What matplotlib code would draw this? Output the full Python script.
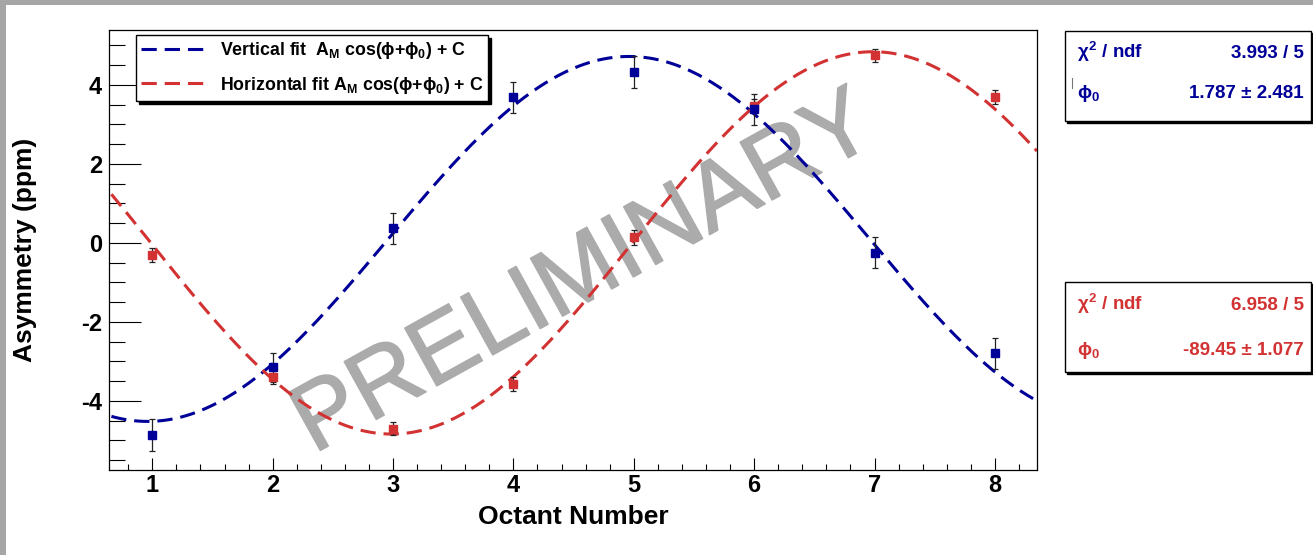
import numpy as np
import matplotlib
matplotlib.use("Agg")
import matplotlib.pyplot as plt
import matplotlib.patheffects as pe
from matplotlib.patches import Rectangle
from matplotlib.lines import Line2D
from matplotlib.ticker import MultipleLocator

# ---------------- data ----------------
octants = [1, 2, 3, 4, 5, 6, 7, 8]
vert_asym = [-4.87, -3.15, 0.37, 3.69, 4.33, 3.38, -0.25, -2.80]
vert_err = [0.40, 0.36, 0.39, 0.39, 0.41, 0.40, 0.39, 0.40]
horiz_asym = [-0.31, -3.40, -4.70, -3.58, 0.14, 3.47, 4.75, 3.69]
horiz_err = [0.18, 0.17, 0.17, 0.18, 0.19, 0.17, 0.17, 0.18]

# fit model: A_M cos(phi + phi0) + C, with phi = 45 deg * (octant - 1)
vert_amp, vert_phi0, vert_const = -4.62, 1.787, 0.10
horiz_amp, horiz_phi0, horiz_const = -4.84, -89.45, 0.0

vert_label = r"Vertical fit  A$_\mathrm{M}$ cos($\phi$+$\phi_\mathrm{0}$) + C"
horiz_label = r"Horizontal fit A$_\mathrm{M}$ cos($\phi$+$\phi_\mathrm{0}$) + C"
vert_stats = [(r"$\chi^\mathrm{2}$ / ndf", "3.993 / 5"), (r"$\phi_\mathrm{0}$", "1.787 ± 2.481")]
horiz_stats = [(r"$\chi^\mathrm{2}$ / ndf", "6.958 / 5"), (r"$\phi_\mathrm{0}$", "-89.45 ± 1.077")]

x_label = "Octant Number"
y_label = "Asymmetry (ppm)"
watermark = "PRELIMINARY"

BLUE = "#000099"
RED = "#d23232"

# ---------------- style ----------------
plt.rcParams["font.family"] = ["Liberation Sans", "DejaVu Sans"]
plt.rcParams["font.weight"] = "bold"
plt.rcParams["axes.unicode_minus"] = False
plt.rcParams["mathtext.fontset"] = "custom"
plt.rcParams["mathtext.rm"] = "Liberation Sans:bold"
plt.rcParams["mathtext.it"] = "Liberation Sans:bold"
plt.rcParams["mathtext.bf"] = "Liberation Sans:bold"
plt.rcParams["mathtext.sf"] = "Liberation Sans:bold"
plt.rcParams["mathtext.fallback"] = "stixsans"

W, H = 1313, 555
fig = plt.figure(figsize=(W / 100, H / 100), dpi=100)


def fx(px):
    return px / W


def fy(py):
    return 1 - py / H


# window frame strips
fig.add_artist(Rectangle((0, fy(5)), 1, 5 / H, transform=fig.transFigure,
                         facecolor="#a6a6a6", edgecolor="none", zorder=0))
fig.add_artist(Rectangle((0, 0), 6 / W, 1, transform=fig.transFigure,
                         facecolor="#a6a6a6", edgecolor="none", zorder=0))

ax = fig.add_axes([fx(109), fy(470), (1037 - 109) / W, (470 - 30) / H])
ax.set_xlim(0.64, 8.35)
ax.set_ylim(-5.75, 5.39)

for sp in ax.spines.values():
    sp.set_linewidth(0.9)
    sp.set_color("black")

ax.xaxis.set_major_locator(MultipleLocator(1))
ax.xaxis.set_minor_locator(MultipleLocator(0.2))
ax.yaxis.set_major_locator(MultipleLocator(2))
ax.yaxis.set_minor_locator(MultipleLocator(0.5))
ax.tick_params(axis="x", which="major", direction="in", length=8.6, width=0.8,
               top=False, labelsize=17, pad=3)
ax.tick_params(axis="x", which="minor", direction="in", length=4.3, width=0.8, top=False)
ax.tick_params(axis="y", which="major", direction="in", length=23, width=0.8,
               right=False, labelsize=17, pad=5)
ax.tick_params(axis="y", which="minor", direction="in", length=11.5, width=0.8, right=False)
for lab in ax.get_xticklabels() + ax.get_yticklabels():
    lab.set_fontweight("bold")

ax.set_xlabel(x_label, fontsize=19, fontweight="bold")
ax.set_ylabel(y_label, fontsize=19, fontweight="bold")
ax.xaxis.set_label_coords(0.5, (470 - 517) / 440)
ax.xaxis.label.set_va("center")
ax.yaxis.set_label_coords((25 - 109) / 928, 0.5)
ax.yaxis.label.set_va("center")

# fit curves
xf = np.linspace(0.66, 8.35, 400)
phi = 45.0 * (xf - 1)
yv = vert_amp * np.cos(np.radians(phi + vert_phi0)) + vert_const
yh = horiz_amp * np.cos(np.radians(phi + horiz_phi0)) + horiz_const
lv, = ax.plot(xf, yv, color=BLUE, lw=2.2, dashes=(5, 2.6), zorder=3, label=vert_label)
lh, = ax.plot(xf, yh, color=RED, lw=2.2, dashes=(5, 2.6), zorder=3, label=horiz_label)

# data points
ax.errorbar(octants, horiz_asym, yerr=horiz_err, fmt="s", color=RED, ms=5.2,
            ecolor="#222222", elinewidth=0.9, capsize=2.2, capthick=0.9, zorder=4)
ax.errorbar(octants, vert_asym, yerr=vert_err, fmt="s", color=BLUE, ms=5.2,
            ecolor="#222222", elinewidth=0.9, capsize=2.2, capthick=0.9, zorder=4)

# watermark
ax.text(fx(597), fy(297), watermark, transform=fig.transFigure, rotation=29,
        rotation_mode="anchor", ha="center", va="baseline", fontsize=69,
        fontweight="normal", color="#ababab", zorder=1.5,
        path_effects=[pe.withStroke(linewidth=1.2, foreground="#ababab")])

# legend
leg = ax.legend(handles=[lv, lh], loc="upper left",
                bbox_to_anchor=(fx(136), fy(35)), bbox_transform=fig.transFigure,
                borderaxespad=0, fontsize=12.8, handlelength=3.6, handletextpad=0.8,
                borderpad=0.3, labelspacing=0.75, fancybox=False,
                shadow={"facecolor": "black", "edgecolor": "black", "alpha": 1},
                framealpha=1)
leg.get_frame().set_edgecolor("black")
leg.get_frame().set_linewidth(1.0)
leg.set_zorder(6)
for t in leg.get_texts():
    t.set_fontweight("bold")


# fit statistics boxes
def stat_box(top, bottom, rows, baselines, color):
    x0, x1 = 1065, 1311
    fig.add_artist(Rectangle((fx(x0 + 2), fy(bottom + 2)), (x1 - x0) / W, (bottom - top) / H,
                             transform=fig.transFigure, facecolor="black",
                             edgecolor="black", zorder=5))
    fig.add_artist(Rectangle((fx(x0), fy(bottom)), (x1 - x0) / W, (bottom - top) / H,
                             transform=fig.transFigure, facecolor="white",
                             edgecolor="black", lw=1.0, zorder=6))
    for (name, val), yb in zip(rows, baselines):
        fig.text(fx(1077), fy(yb), name, ha="left", va="baseline", fontsize=13.5,
                 fontweight="bold", color=color, zorder=7)
        fig.text(fx(1304), fy(yb), val, ha="right", va="baseline", fontsize=13.5,
                 fontweight="bold", color=color, zorder=7)


stat_box(31, 121, vert_stats, [57.5, 98], BLUE)
stat_box(282, 372, horiz_stats, [310, 355], RED)
fig.add_artist(Line2D([fx(1072), fx(1072)], [fy(78), fy(88)], transform=fig.transFigure,
                      color="#777777", lw=0.8, zorder=8))

fig.savefig("out.png", dpi=100)
